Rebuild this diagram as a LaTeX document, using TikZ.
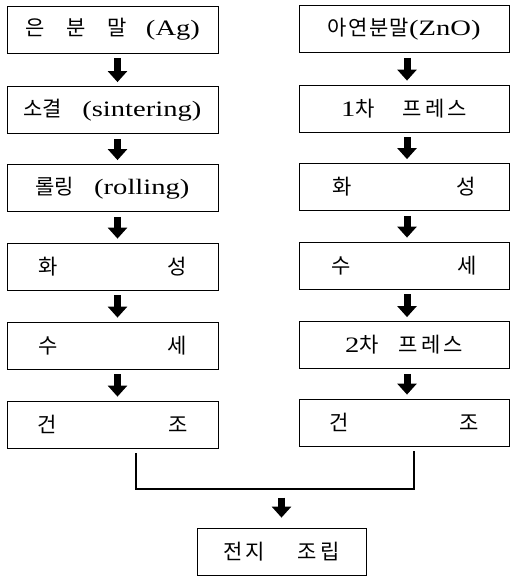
\documentclass[tikz,border=0pt]{standalone}
\usepackage{fontspec}
\setmainfont[FakeStretch=1.3]{Liberation Serif}
\newfontfamily\kr[Scale=0.955]{Noto Sans CJK KR}
\usetikzlibrary{arrows.meta,calc}
\tikzset{
  boxL/.style={draw=black, line width=0.8pt, minimum width=211pt, minimum height=47pt, inner sep=0pt, font=\fontsize{22}{26}\selectfont},
  boxR/.style={boxL, minimum width=210pt},
  boxB/.style={boxL, minimum width=169pt},
  barrow/.style={line width=7pt, -{Triangle[width=19pt,length=11pt]}, shorten <=5pt, shorten >=4pt},
  joinline/.style={line width=2pt},
}
\begin{document}
\begin{tikzpicture}[x=1pt,y=-1pt]
\useasboundingbox (0,0) rectangle (510,576);
% left column
\node[boxL] (L1) at (112.5,29.5) {{\kr 은}\hspace{22pt}{\kr 분}\hspace{22pt}{\kr 말}\hspace{19pt}(Ag)};
\node[boxL] (L2) at (112.5,110) {{\kr 소결}\hspace{20pt}(sintering)};
\node[boxL] (L3) at (112.5,188) {{\kr 롤링}\hspace{20pt}(rolling)};
\node[boxL, text width=149pt] (L4) at (112.5,266.5) {\kr 화\hfill 성\hspace{4pt}};
\node[boxL, text width=149pt] (L5) at (112.5,345.5) {\kr 수\hfill 세\hspace{2pt}};
\node[boxL, text width=151pt] (L6) at (112.5,424.5) {\kr 건\hfill 조\hspace{3pt}};
% right column
\node[boxR] (R1) at (404,29) {{\kr 아}\hspace{1.5pt}{\kr 연}\hspace{1.5pt}{\kr 분}\hspace{1.5pt}{\kr 말}(ZnO)};
\node[boxR] (R2) at (404,108.5) {1{\kr 차}\hspace{28pt}{\kr 프}\hspace{3pt}{\kr 레}\hspace{3pt}{\kr 스}\hspace{12pt}};
\node[boxR, text width=144pt] (R3) at (404,187) {\kr 화\hfill 성\hspace{13pt}};
\node[boxR, text width=145pt] (R4) at (404,265.5) {\kr 수\hfill 세\hspace{12pt}};
\node[boxR] (R5) at (404,345) {2{\kr 차}\hspace{20pt}{\kr 프}\hspace{3pt}{\kr 레}\hspace{3pt}{\kr 스}};
\node[boxR, text width=150pt] (R6) at (404,422.5) {\kr 건\hfill 조};
% bottom
\node[boxB] (B) at (281.5,551.5) {{\kr 전}\hspace{3pt}{\kr 지}\hspace{33pt}{\kr 조}\hspace{3pt}{\kr 립}\hspace{12pt}};
% arrows
\foreach \a/\b in {L1/L2,L2/L3,L3/L4,L4/L5,L5/L6}
  \draw[barrow] ($(\a.south)+(5,0)$) -- ($(\b.north)+(5,0)$);
\foreach \a/\b in {R1/R2,R2/R3,R3/R4,R4/R5,R5/R6}
  \draw[barrow] ($(\a.south)+(3,0)$) -- ($(\b.north)+(3,0)$);
% join
\coordinate (J) at ($(B.north)+(0,-39)$);
\draw[joinline] ($(L6.south)+(23.5,5)$) |- ($(R6.south)+(10,42.5)$) -- ($(R6.south)+(10,4.5)$);
\draw[barrow, shorten <=9pt, shorten >=10pt] (J) -- (B.north);
\end{tikzpicture}
\end{document}
